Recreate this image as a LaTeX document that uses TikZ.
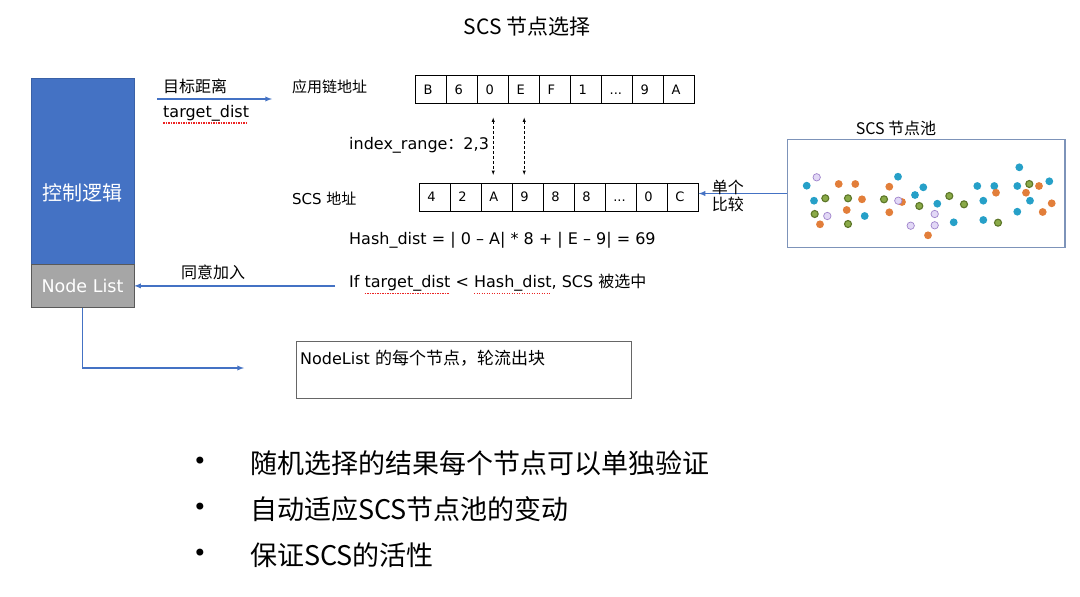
\documentclass[tikz,border=0pt]{standalone}
\usepackage{fontspec}
\setmainfont{DejaVu Sans}
\newfontfamily\cjk{Noto Sans CJK SC}
\usepackage{tikz}
\usetikzlibrary{arrows,positioning,calc}

\definecolor{ctrlblue}{RGB}{68,114,196}
\definecolor{listgray}{RGB}{166,166,166}
\definecolor{poolframe}{RGB}{125,147,185}
\definecolor{dotblue}{RGB}{38,160,200}
\definecolor{dotorange}{RGB}{226,126,58}
\definecolor{dotgreen}{RGB}{138,170,72}
\definecolor{dotgreenrim}{RGB}{92,118,40}
\definecolor{dotlilac}{RGB}{226,216,246}
\definecolor{dotlilacrim}{RGB}{160,132,204}
\definecolor{spellred}{RGB}{235,35,35}

% red dotted spell-check underline
\newcommand{\spellmark}[1]{\setbox0\hbox{#1}\rlap{\raisebox{-0.4em}[0pt][0pt]{\hbox to \wd0{\leaders\hbox{\textcolor{spellred}{\rule{1.4pt}{1.3pt}}\kern1.1pt}\hfill}}}\box0\relax}
\newcommand{\celldots}{...}

\tikzset{ctrl/.style = {draw=ctrlblue!85!black, fill=ctrlblue, minimum width=103pt, minimum height=186pt},
         ctrltxt/.style = {text=white, font=\cjk\fontsize{20}{24}\selectfont},
         nlist/.style = {draw=gray!70!black, fill=listgray, text=white, minimum width=103pt, minimum height=43pt, font=\fontsize{17.5}{21}\selectfont},
         cell/.style = {draw, line width=0.6pt, rectangle, minimum height=28pt, text width=15pt, text height=9.4pt, text depth=0pt, inner xsep=8pt, inner ysep=0pt, align=left, font=\fontsize{13}{15}\selectfont},
         lbl/.style = {inner sep=1pt, font=\fontsize{16}{19}\selectfont},
         cjklbl/.style = {inner sep=1pt, font=\cjk\fontsize{16}{19}\selectfont},
         title/.style = {inner sep=1pt, font=\cjk\fontsize{21}{25}\selectfont},
         pool/.style = {draw=poolframe, line width=1.2pt, minimum width=277.7pt, minimum height=108.4pt},
         turnbox/.style = {draw=gray!80!black, line width=0.8pt, minimum width=335pt, minimum height=57pt},
         conn/.style = {-latex, draw=ctrlblue, line width=1.3pt},
         idx/.style = {latex-latex, densely dashed, line width=0.5pt, shorten <=14pt, shorten >=8pt},
         bul/.style = {inner sep=0pt, font=\fontsize{24}{26}\selectfont},
         bultxt/.style = {inner sep=1pt, font=\cjk\fontsize{27}{30}\selectfont},
}

\begin{document}
\begin{tikzpicture}[x=1pt, y=-1pt, auto, node distance=0pt]

  \fill[white] (0,0) rectangle (1080,597);
  \useasboundingbox (0,0) rectangle (1080,597);

  \node[title] (ttl) at (527,27) {SCS 节点选择};

  % control logic + node list
  \node[ctrl] (ctrl) at (82.5,171) {};
  \node[ctrltxt] (ctrltxt) at ([yshift=-22pt]ctrl.center) {控制逻辑};
  \node[nlist, below = of ctrl] (nlist) {Node List};

  \coordinate (tgtS) at (157,99);
  \coordinate (tgtE) at (272,99);
  \node[cjklbl, anchor=west] (tgtcn) at (162,86) {目标距离};
  \node[lbl, anchor=west] (tgten) at (162,113) {\spellmark{target\_dist}};

  % addresses
  \node[cjklbl, anchor=west, font=\cjk\fontsize{15}{18}\selectfont] (applbl) at (291,87) {应用链地址};
  \node[lbl, anchor=west, font=\fontsize{15}{18}\selectfont] (scslbl) at (291,199) {SCS {\cjk 地址}};
  \foreach \c [count=\i] in {B,6,0,E,F,1,\celldots,9,A}
    \node[cell] (app\i) at ({431.2+31*(\i-1)},89.3) {\c};
  \foreach \c [count=\i] in {4,2,A,9,8,8,\celldots,0,C}
    \node[cell] (scs\i) at ({434.8+31*(\i-1)},197.2) {\c};
  \draw[line width=1.2pt] (scs3.north east) -- (scs3.south east);

  \draw[idx] (app3.south) -- (app3.south |- scs3.north);
  \draw[idx] (app4.south) -- (app4.south |- scs4.north);
  \node[lbl, anchor=west] (irange) at (348,145) {index\_range{\cjk ：}2,3};

  \node[lbl, anchor=west] (hash) at (348,240) {Hash\_dist = | 0 – A| * 8 + | E – 9| = 69};
  \node[lbl, anchor=west] (cond) at (348,283) {If \spellmark{target\_dist} < \spellmark{Hash\_dist}, SCS {\cjk 被选中}};

  % node pool
  \node[pool] (pool) at (926.2,193.5) {};
  \node[cjklbl] (poollbl) at (896,128) {SCS 节点池};
  \foreach \x/\y in {806.7/185.7, 814/200.7, 864.7/216, 898/176.7, 915/195, 923.3/187.3, 937.3/203.7, 953.7/222.3, 977.3/186, 994.3/186, 983.3/200.7, 983.3/220, 1019.3/167.3, 1017.3/186, 1049.3/181.3, 1030/200.7, 1017.3/211.7}
    \fill[dotblue] (\x,\y) circle (3.9pt);
  \foreach \x/\y in {838.7/184, 855.3/184, 862/199.3, 846.7/210, 820/224.3, 889.3/186.7, 902/202, 889.3/212.3, 928/235.3, 996/192.7, 1026/192.7, 1039/186, 1051.7/203.3, 1042.7/212}
    \fill[dotorange] (\x,\y) circle (3.9pt);
  \foreach \x/\y in {825.3/198.3, 848/198.3, 814.7/214, 848/224, 884/199.3, 919.3/206, 949.3/196, 964/204.3, 998/222.7, 1029.3/184}
    \draw[dotgreenrim, fill=dotgreen, line width=1.1pt] (\x,\y) circle (3.5pt);
  \foreach \x/\y in {816.7/177.3, 827.3/216, 898.3/200.7, 934.7/214, 910.7/225.7, 934.7/225.3}
    \draw[dotlilacrim, fill=dotlilac, line width=0.7pt] (\x,\y) circle (3.7pt);

  \draw[conn] (pool.west) -- (pool.west -| scs9.east);
  \node[cjklbl, anchor=south west] (cmpa) at ($(pool.west -| scs9.east)+(12,2)$) {单个};
  \node[cjklbl, anchor=north west] (cmpb) at ($(pool.west -| scs9.east)+(12,2)$) {比较};

  \draw[conn] (tgtS) -- (tgtE);
  \draw[conn] ($(nlist.east -| cond.west)+(-13,0)$) -- (nlist.east);
  \node[cjklbl, anchor=west] (agree) at (180,272) {同意加入};

  \node[turnbox] (turn) at (463.5,369.5) {};
  \node[lbl, anchor=west] (turntxt) at (299,358) {NodeList {\cjk\fontsize{17}{20}\selectfont 的每个节点，轮流出块}};
  \coordinate (turnIn) at (244,368);
  \draw[conn] (nlist.south) |- (turnIn);

  % bullets
  \foreach \t [count=\i] in {随机选择的结果每个节点可以单独验证, 自动适应SCS节点池的变动, 保证SCS的活性} {
    \node[bul] (dot\i) at (200,{463+46*(\i-1)}) {•};
    \node[bultxt, anchor=west] (pt\i) at (249,{463+46*(\i-1)}) {\t};
  }

\end{tikzpicture}
\end{document}
